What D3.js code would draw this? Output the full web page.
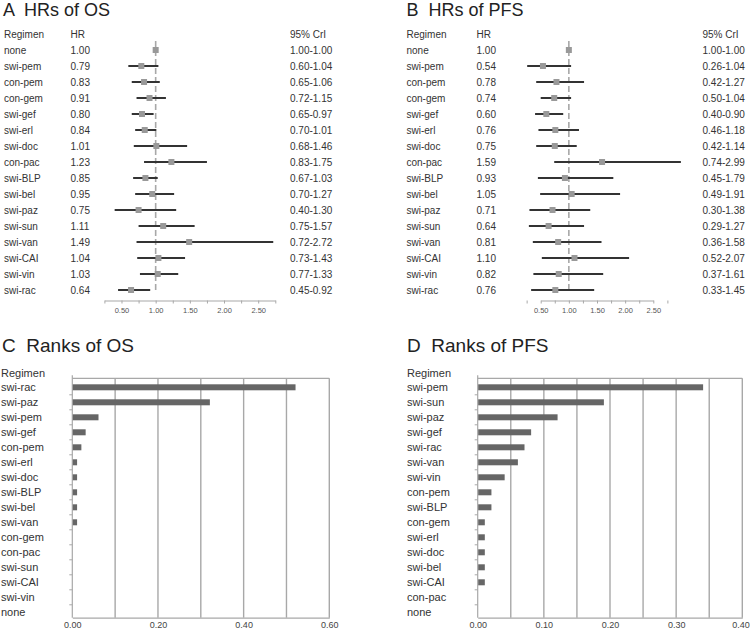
<!DOCTYPE html>
<html>
<head>
<meta charset="utf-8">
<script src="https://cdn.jsdelivr.net/npm/d3@7/dist/d3.min.js"></script>
<style>
  html, body { margin: 0; padding: 0; background: #fff; }
  svg { display: block; font-family: "Liberation Sans", Arial, sans-serif; }
</style>
</head>
<body>
<svg id="chart" width="750" height="629"></svg>
<script>
// ---------------- DATA ----------------
const hrRegimens = ["none","swi-pem","con-pem","con-gem","swi-gef","swi-erl","swi-doc","con-pac",
  "swi-BLP","swi-bel","swi-paz","swi-sun","swi-van","swi-CAI","swi-vin","swi-rac"];

const osHR   = [1.00,0.79,0.83,0.91,0.80,0.84,1.01,1.23,0.85,0.95,0.75,1.11,1.49,1.04,1.03,0.64];
const osLow  = [1.00,0.60,0.65,0.72,0.65,0.70,0.68,0.83,0.67,0.70,0.40,0.75,0.72,0.73,0.77,0.45];
const osHigh = [1.00,1.04,1.06,1.15,0.97,1.01,1.46,1.75,1.03,1.27,1.30,1.57,2.72,1.43,1.33,0.92];

const pfsHR   = [1.00,0.54,0.78,0.74,0.60,0.76,0.75,1.59,0.93,1.05,0.71,0.64,0.81,1.10,0.82,0.76];
const pfsLow  = [1.00,0.26,0.42,0.50,0.40,0.46,0.42,0.74,0.45,0.49,0.30,0.29,0.36,0.52,0.37,0.33];
const pfsHigh = [1.00,1.04,1.27,1.04,0.90,1.18,1.14,2.99,1.79,1.91,1.38,1.27,1.58,2.07,1.61,1.45];

const hrTickLabels = [0.5, 1.0, 1.5, 2.0, 2.5];
const hrMinorTicks = [0.25,0.5,0.75,1.0,1.25,1.5,1.75,2.0,2.25,2.5,2.75];

const osRankRegimens = ["swi-rac","swi-paz","swi-pem","swi-gef","con-pem","swi-erl","swi-doc","swi-BLP",
  "swi-bel","swi-van","con-gem","con-pac","swi-sun","swi-CAI","swi-vin","none"];
const osRankValues = [0.52,0.32,0.06,0.03,0.02,0.01,0.01,0.01,0.01,0.01,0,0,0,0,0,0];

const pfsRankRegimens = ["swi-pem","swi-sun","swi-paz","swi-gef","swi-rac","swi-van","swi-vin","con-pem",
  "swi-BLP","con-gem","swi-erl","swi-doc","swi-bel","swi-CAI","con-pac","none"];
const pfsRankValues = [0.34,0.19,0.12,0.08,0.07,0.06,0.04,0.02,0.02,0.01,0.01,0.01,0.01,0.01,0,0];

const osRankTicks = [0.00, 0.20, 0.40, 0.60];
const osRankGrid = [0.1,0.2,0.3,0.4,0.5,0.6];
const pfsRankTicks = [0.00, 0.10, 0.20, 0.30, 0.40];
const pfsRankGrid = [0.05,0.10,0.15,0.20,0.25,0.30,0.35,0.40];

// ---------------- DRAW ----------------
const svg = d3.select("#chart");
const TXT = "#333";
const GRAY = "#a8a8a8";

function forest(opt) {
  const g = svg.append("g");
  g.append("text").attr("x", opt.titleX).attr("y", 16.3)
    .attr("font-size", 18).attr("fill", "#222").attr("xml:space", "preserve").text(opt.title);

  const y = d3.scaleBand().domain(hrRegimens).range([42, 298]);
  const yc = d => y(d) + y.bandwidth() / 2;
  const x = d3.scaleLinear().domain(opt.domain).range(opt.range);

  // header
  const hy = 34 + 3.5;
  g.append("text").attr("x", opt.colReg).attr("y", hy).attr("font-size", 10).attr("fill", TXT).text("Regimen");
  g.append("text").attr("x", opt.colHR).attr("y", hy).attr("font-size", 10).attr("fill", TXT).text("HR");
  g.append("text").attr("x", opt.colCrI).attr("y", hy).attr("font-size", 10).attr("fill", TXT).text("95% CrI");

  // reference dashed line
  g.append("line").attr("x1", x(1)).attr("x2", x(1)).attr("y1", 41).attr("y2", 293)
    .attr("stroke", GRAY).attr("stroke-width", 1.6).attr("stroke-dasharray", "6,3");

  hrRegimens.forEach((r, i) => {
    const cy = yc(r);
    g.append("text").attr("x", opt.colReg).attr("y", cy + 3.5).attr("font-size", 10).attr("fill", TXT).text(r);
    g.append("text").attr("x", opt.colHR).attr("y", cy + 3.5).attr("font-size", 10).attr("fill", TXT)
      .text(opt.hr[i].toFixed(2));
    g.append("text").attr("x", opt.colCrI).attr("y", cy + 3.5).attr("font-size", 10).attr("fill", TXT)
      .text(opt.lo[i].toFixed(2) + "-" + opt.hi[i].toFixed(2));
    if (opt.hi[i] > opt.lo[i]) {
      g.append("line").attr("x1", x(opt.lo[i])).attr("x2", x(opt.hi[i])).attr("y1", cy).attr("y2", cy)
        .attr("stroke", "#333").attr("stroke-width", 2);
    }
    g.append("rect").attr("x", x(opt.hr[i]) - 3).attr("y", cy - 3).attr("width", 6).attr("height", 6)
      .attr("fill", "#999");
  });

  const axis = d3.axisBottom(x).tickValues(hrMinorTicks).tickSize(3).tickSizeOuter(0)
    .tickFormat(d => hrTickLabels.some(t => Math.abs(t - d) < 1e-9) ? d3.format(".2f")(d) : "");
  const ag = g.append("g").attr("transform", "translate(0,300.5)").call(axis);
  ag.select(".domain").attr("stroke", GRAY).attr("stroke-width", 1.2);
  ag.selectAll(".tick line").attr("stroke", GRAY);
  ag.selectAll(".tick text").attr("font-size", 7.5).attr("fill", "#555").attr("dy", "0.9em")
    .attr("font-family", "'Liberation Sans', Arial, sans-serif");
}

forest({ title: "A  HRs of OS", titleX: 3, colReg: 4, colHR: 70.5, colCrI: 290,
  domain: [0.25, 2.75], range: [104.4, 275.3], hr: osHR, lo: osLow, hi: osHigh });
forest({ title: "B  HRs of PFS", titleX: 406.5, colReg: 406.5, colHR: 476.5, colCrI: 702.5,
  domain: [0.5, 2.5], range: [540.7, 653.3], hr: pfsHR, lo: pfsLow, hi: pfsHigh });

function ranks(opt) {
  const g = svg.append("g");
  g.append("text").attr("x", opt.titleX).attr("y", 352)
    .attr("font-size", 19).attr("fill", "#222").attr("xml:space", "preserve").text(opt.title);
  g.append("text").attr("x", opt.labX).attr("y", 372.7 + 4).attr("font-size", 11).attr("fill", TXT).text("Regimen");

  const y = d3.scaleBand().domain(opt.regs).range([379.8, 619.8]);
  const x = d3.scaleLinear().domain([0, opt.max]).range(opt.range);
  const top = 378.3, bot = 617.7;

  // grid
  opt.grid.forEach(v => {
    g.append("line").attr("x1", x(v)).attr("x2", x(v)).attr("y1", top).attr("y2", bot)
      .attr("stroke", GRAY).attr("stroke-width", 1.4);
  });
  // top border
  g.append("line").attr("x1", x(0)).attr("x2", x(opt.max)).attr("y1", top).attr("y2", top)
    .attr("stroke", GRAY).attr("stroke-width", 1.2);
  // left axis
  g.append("line").attr("x1", x(0)).attr("x2", x(0)).attr("y1", top - 3).attr("y2", bot)
    .attr("stroke", GRAY).attr("stroke-width", 1.2);
  opt.regs.forEach((r, i) => {
    if (i > 0) {
      g.append("line").attr("x1", x(0) - 3).attr("x2", x(0)).attr("y1", y(r)).attr("y2", y(r))
        .attr("stroke", GRAY).attr("stroke-width", 1);
    }
  });
  // bottom axis
  const axis = d3.axisBottom(x).tickValues(opt.ticks).tickSize(0).tickSizeOuter(0).tickFormat(d3.format(".2f"));
  const ag = g.append("g").attr("transform", `translate(0,${bot})`).call(axis);
  ag.select(".domain").attr("stroke", GRAY).attr("stroke-width", 1.2);
  ag.selectAll(".tick text").attr("font-size", 9).attr("fill", "#444").attr("dy", "0.78em")
    .attr("font-family", "'Liberation Sans', Arial, sans-serif");
  if (opt.lastShift) {
    ag.selectAll(".tick text").filter((d, i, n) => i === n.length - 1).attr("dx", opt.lastShift);
  }

  opt.regs.forEach((r, i) => {
    const cy = y(r) + y.bandwidth() / 2 - 0;
    g.append("text").attr("x", opt.labX).attr("y", cy + 4).attr("font-size", 11).attr("fill", TXT).text(r);
    if (opt.vals[i] > 0) {
      g.append("rect").attr("x", x(0) + 0.5).attr("y", cy - 3).attr("width", x(opt.vals[i]) - x(0))
        .attr("height", 6).attr("fill", "#666");
    }
  });
}

ranks({ title: "C  Ranks of OS", titleX: 2, labX: 1, regs: osRankRegimens, vals: osRankValues,
  max: 0.6, range: [72.3, 329.3], ticks: osRankTicks, grid: osRankGrid });
ranks({ title: "D  Ranks of PFS", titleX: 407, labX: 407, regs: pfsRankRegimens, vals: pfsRankValues,
  max: 0.4, range: [477.7, 742.3], ticks: pfsRankTicks, grid: pfsRankGrid, lastShift: -1.8 });
</script>
</body>
</html>
